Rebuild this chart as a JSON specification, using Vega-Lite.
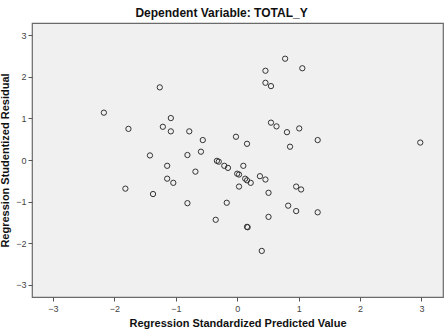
{
  "$schema": "https://vega.github.io/schema/vega-lite/v6.json",
  "autosize": {"type": "none"},
  "width": 411,
  "height": 274,
  "padding": {"left": 32, "top": 23, "right": 5, "bottom": 32},
  "background": "white",
  "title": {
    "text": "Dependent Variable: TOTAL_Y",
    "font": "Liberation Sans",
    "fontSize": 12,
    "fontWeight": "bold",
    "color": "#111",
    "anchor": "middle",
    "dx": -16,
    "offset": 3
  },
  "config": {
    "view": {"fill": "#f0f0f0", "stroke": "#6a6a6a", "strokeWidth": 1.2},
    "axis": {
      "grid": false,
      "domain": false,
      "tickColor": "#555",
      "tickSize": 4,
      "labelFont": "Liberation Sans",
      "labelFontSize": 9,
      "labelColor": "#444",
      "titleFont": "Liberation Sans",
      "titleFontSize": 11,
      "titleFontWeight": "bold",
      "titleColor": "#111"
    }
  },
  "data": {
    "values": [
      {"x": 0.78, "y": 2.44}, {"x": 0.46, "y": 2.15}, {"x": 1.06, "y": 2.21},
      {"x": 0.46, "y": 1.86}, {"x": 0.55, "y": 1.78}, {"x": -1.26, "y": 1.75},
      {"x": -2.17, "y": 1.14}, {"x": -1.77, "y": 0.75}, {"x": -1.08, "y": 1.01},
      {"x": -1.21, "y": 0.80}, {"x": -1.08, "y": 0.69}, {"x": -0.78, "y": 0.69},
      {"x": -0.56, "y": 0.48}, {"x": -0.59, "y": 0.20}, {"x": -1.42, "y": 0.11},
      {"x": -0.81, "y": 0.12}, {"x": 0.55, "y": 0.90}, {"x": 0.64, "y": 0.81},
      {"x": 0.81, "y": 0.67}, {"x": 1.01, "y": 0.76}, {"x": 1.31, "y": 0.48},
      {"x": 0.86, "y": 0.32}, {"x": -0.02, "y": 0.56}, {"x": 0.16, "y": 0.39},
      {"x": 2.98, "y": 0.42}, {"x": -1.14, "y": -0.14}, {"x": -0.68, "y": -0.28},
      {"x": -1.14, "y": -0.45}, {"x": -1.04, "y": -0.55}, {"x": -1.82, "y": -0.69},
      {"x": -1.37, "y": -0.82}, {"x": -0.81, "y": -1.04}, {"x": -0.33, "y": -0.02},
      {"x": -0.30, "y": -0.04}, {"x": -0.21, "y": -0.14}, {"x": -0.15, "y": -0.19},
      {"x": 0.10, "y": -0.14}, {"x": 0.00, "y": -0.33}, {"x": 0.03, "y": -0.35},
      {"x": 0.13, "y": -0.45}, {"x": 0.16, "y": -0.49}, {"x": 0.22, "y": -0.55},
      {"x": 0.37, "y": -0.39}, {"x": 0.46, "y": -0.47}, {"x": 0.03, "y": -0.64},
      {"x": 0.51, "y": -0.79}, {"x": 0.96, "y": -0.64}, {"x": 1.04, "y": -0.71},
      {"x": -0.17, "y": -1.03}, {"x": -0.35, "y": -1.44}, {"x": 0.16, "y": -1.61},
      {"x": 0.17, "y": -1.62}, {"x": 0.51, "y": -1.37}, {"x": 0.83, "y": -1.10},
      {"x": 0.96, "y": -1.23}, {"x": 1.31, "y": -1.26}, {"x": 0.40, "y": -2.19}
    ]
  },
  "mark": {"type": "point", "shape": "circle", "filled": false, "color": "#333", "size": 28, "strokeWidth": 1, "opacity": 1},
  "encoding": {
    "x": {
      "field": "x", "type": "quantitative",
      "scale": {"domain": [-3.34, 3.35], "nice": false, "zero": false},
      "axis": {"values": [-3, -2, -1, 0, 1, 2, 3], "title": "Regression Standardized Predicted Value", "labelPadding": 3, "titlePadding": 4}
    },
    "y": {
      "field": "y", "type": "quantitative",
      "scale": {"domain": [-3.3, 3.3], "nice": false, "zero": false},
      "axis": {"values": [-3, -2, -1, 0, 1, 2, 3], "title": "Regression Studentized Residual", "labelPadding": 2, "titlePadding": 5}
    }
  }
}
